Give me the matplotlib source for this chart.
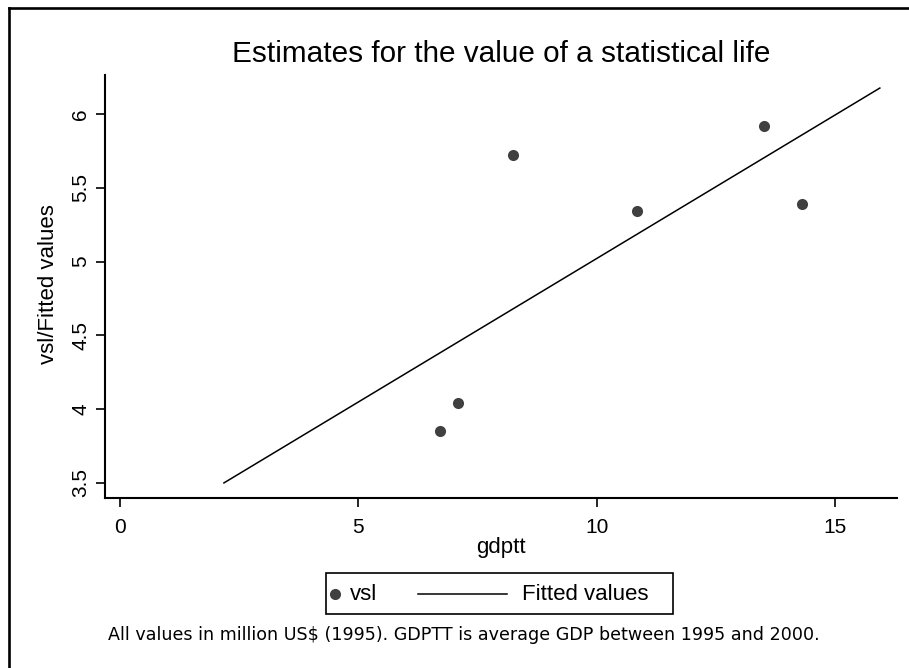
import numpy as np
import matplotlib.pyplot as plt
from matplotlib.lines import Line2D
from matplotlib.patches import Rectangle
from matplotlib.ticker import FormatStrFormatter

# data
gdptt = [6.71, 7.08, 8.24, 10.85, 13.52, 14.30]
vsl = [3.85, 4.04, 5.72, 5.34, 5.92, 5.39]
gdptt_range = [2.18, 15.94]   # gdptt span used for the fitted line

x_ticks = [0, 5, 10, 15]
y_ticks = [3.5, 4, 4.5, 5, 5.5, 6]

title = 'Estimates for the value of a statistical life'
note = 'All values in million US$ (1995). GDPTT is average GDP between 1995 and 2000.'

plt.rcParams['font.family'] = ['Liberation Sans', 'DejaVu Sans']

W, H = 909, 668
fig = plt.figure(figsize=(W / 100, H / 100), dpi=100)


def fx(px):
    return px / W


def fy(py):
    return 1 - py / H


ax = fig.add_axes([fx(105), fy(498), fx(897) - fx(105), fy(75) - fy(498)])

# OLS fit
slope, intercept = np.polyfit(gdptt, vsl, 1)
xfit = np.array(gdptt_range)
yfit = intercept + slope * xfit

ax.plot(xfit, yfit, color='black', lw=1.1)
ax.plot(gdptt, vsl, 'o', color='#404040', ms=8, mec='none')

ax.set_xlim(-0.315, 16.3)
ax.set_ylim(3.398, 6.264)
ax.set_xticks(x_ticks)
ax.set_yticks(y_ticks)
ax.yaxis.set_major_formatter(FormatStrFormatter('%g'))
ax.xaxis.set_major_formatter(FormatStrFormatter('%g'))

for s in ['top', 'right']:
    ax.spines[s].set_visible(False)
for s in ['left', 'bottom']:
    ax.spines[s].set_linewidth(1.5)

ax.tick_params(axis='both', direction='out', length=6.5, width=1.2, labelsize=15)
ax.tick_params(axis='x', pad=8)
ax.tick_params(axis='y', pad=4)
for lab in ax.get_yticklabels():
    lab.set_rotation(90)
    lab.set_va('center')

ax.set_xlabel('gdptt', fontsize=16)
ax.xaxis.set_label_coords(0.5, -0.092)
ax.set_ylabel('vsl/Fitted values', fontsize=16)
ax.yaxis.set_label_coords(-0.058, 0.506)

fig.text(fx(501), fy(62), title, fontsize=21.4, ha='center', va='baseline')
fig.text(fx(108), fy(640), note, fontsize=12.6, ha='left', va='baseline',
         family='DejaVu Sans')

# legend box drawn by hand to match the original layout
fig.add_artist(Rectangle((fx(326), fy(614)), fx(673) - fx(326), fy(573) - fy(614),
                         transform=fig.transFigure, fill=False, ec='black', lw=1.2))
fig.add_artist(Line2D([fx(335)], [fy(594)], marker='o', color='#404040', ms=8,
                      mec='none', transform=fig.transFigure))
fig.text(fx(350), fy(594), 'vsl', fontsize=16, ha='left', va='center')
fig.add_artist(Line2D([fx(418), fx(507)], [fy(594), fy(594)], color='black', lw=1.1,
                      transform=fig.transFigure))
fig.text(fx(522), fy(594), 'Fitted values', fontsize=16, ha='left', va='center')

# outer frame (top and left edges visible)
fig.add_artist(Line2D([fx(9), 1], [fy(8), fy(8)], color='black', lw=1.9,
                      transform=fig.transFigure))
fig.add_artist(Line2D([fx(9), fx(9)], [0, fy(8)], color='black', lw=1.9,
                      transform=fig.transFigure))

fig.savefig('out.png', dpi=100)
